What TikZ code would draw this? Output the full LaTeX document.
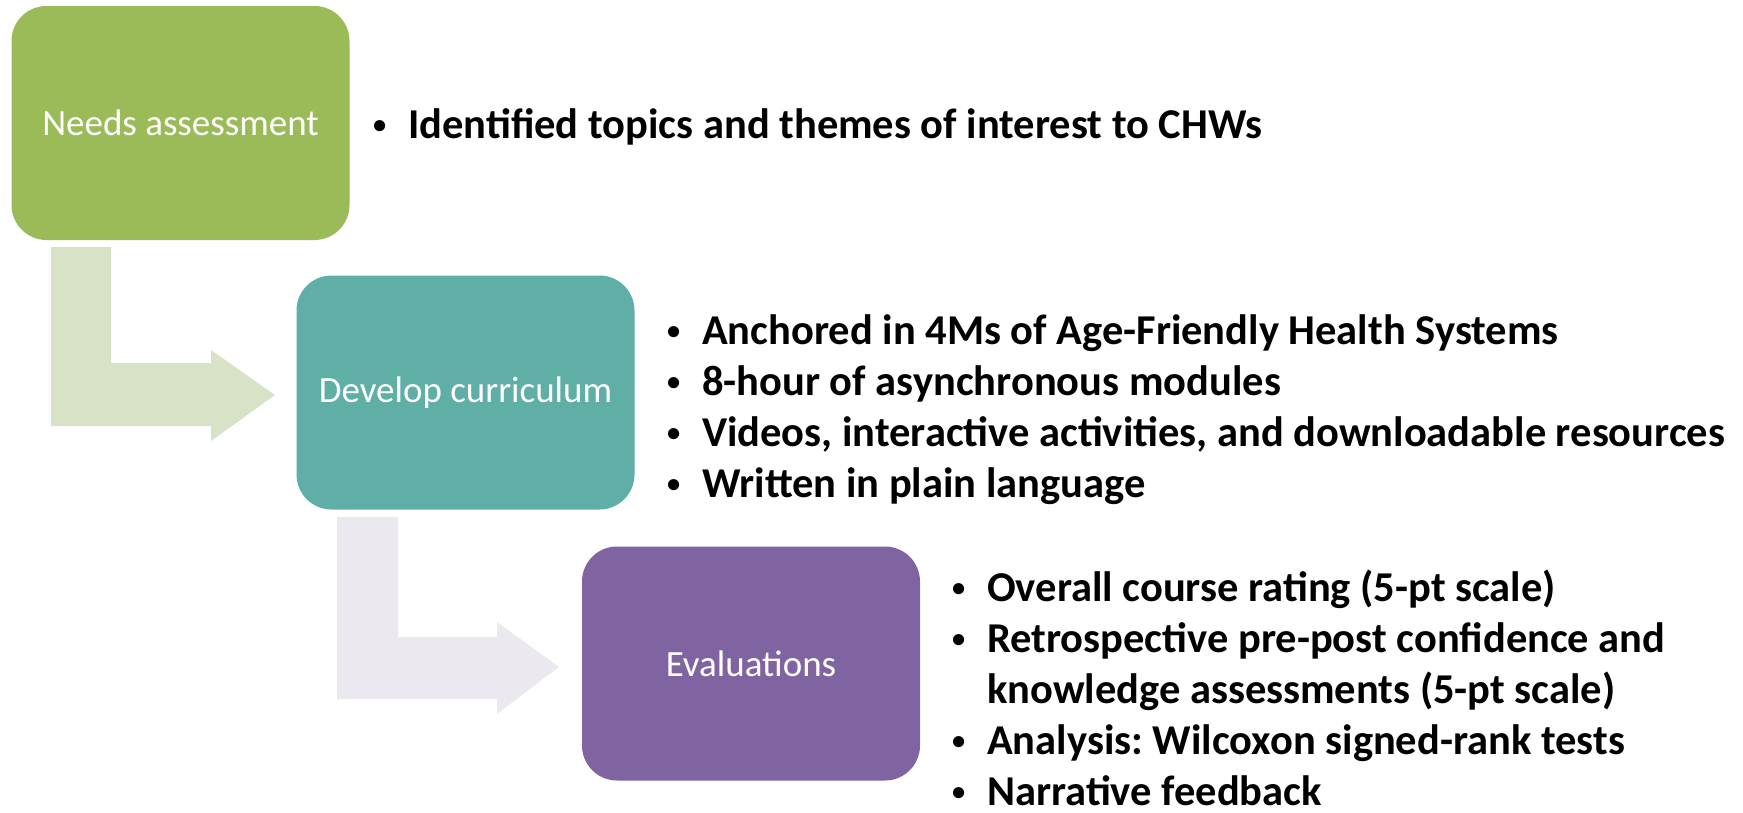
\documentclass[tikz,border=0pt]{standalone}
\usepackage{fontspec}
\usepackage{graphicx}
\setmainfont{Carlito}
\frenchspacing
\definecolor{boxgreen}{HTML}{9BBB59}
\definecolor{boxteal}{HTML}{5FAFA6}
\definecolor{boxpurple}{HTML}{8064A2}
\definecolor{arrowgreen}{HTML}{D7E2C6}
\definecolor{arrowlav}{HTML}{EBE9EF}
\newcommand\bulmark{\makebox[35pt][l]{\raisebox{5pt}{\scalebox{0.62}{\textbullet}}}}
\begin{document}
\begin{tikzpicture}[x=1pt,y=-1pt,
  stagebox/.style={rounded corners=35pt, minimum width=338pt, minimum height=234pt,
    inner sep=0pt, text=white, font=\fontsize{37}{44}\selectfont},
  bullets/.style={anchor=base west, inner sep=0pt, font=\fontsize{42.5}{51}\selectfont\bfseries}]
\useasboundingbox (0,0) rectangle (1743,812);
% stage boxes
\node[stagebox, fill=boxgreen] (b1) at (180.5,123) {Needs assessment};
\node[stagebox, fill=boxteal] (b2) at (465.5,392.5) {Develop curriculum};
\node[stagebox, fill=boxpurple] (b3) at (751,663.5) {Evaluations};
% bent arrows
\fill[arrowgreen] (51,247) -- (111,247) -- (111,363) -- (211,363) -- (211,350)
  -- (275,395) -- (211,441) -- (211,426) -- (51,426) -- cycle;
\fill[arrowlav] (337,517) -- (398,517) -- (398,637) -- (497,637) -- (497,622)
  -- (559,667) -- (497,714) -- (497,699) -- (337,699) -- cycle;
% bullet lists
\node[bullets] (l1) at (373,138) {\begin{tabular}[t]{@{}l@{}l@{}}
\bulmark & Identified topics and themes of interest to CHWs
\end{tabular}};
\node[bullets] (l2) at (667,344) {\begin{tabular}[t]{@{}l@{}l@{}}
\bulmark & Anchored in 4Ms of Age-Friendly Health Systems\\
\bulmark & 8-hour of asynchronous modules\\
\bulmark & Videos, interactive activities, and downloadable resources\\
\bulmark & Written in plain language
\end{tabular}};
\node[bullets] (l3) at (952,601) {\raisebox{0pt}[\height][\dimexpr\depth-14pt\relax]{\begin{tabular}[t]{@{}l@{}l@{}}
\bulmark & Overall course rating (5-pt scale)\\
\bulmark & Retrospective pre-post confidence and\\
 & knowledge assessments (5-pt scale)\\
\bulmark & Analysis: Wilcoxon signed-rank tests\\
\bulmark & Narrative feedback
\end{tabular}}};
\end{tikzpicture}
\end{document}
